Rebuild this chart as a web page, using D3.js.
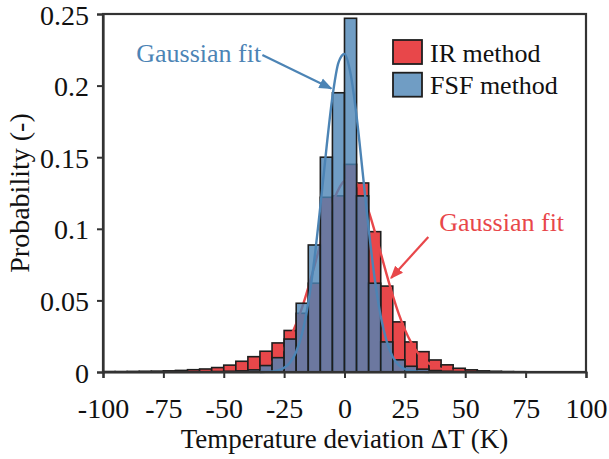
<!DOCTYPE html>
<html><head><meta charset="utf-8">
<script src="https://cdn.jsdelivr.net/npm/d3@7"></script>
<style>
html,body{margin:0;padding:0;background:#fff;}
svg{display:block;}
text{font-family:"Liberation Serif","Times New Roman",serif;}
</style></head>
<body>
<svg id="chart" width="609" height="459"></svg>
<script>
// Bin left edges (K), bin width 5 K
const binEdges = d3.range(-100, 100, 5);
const binWidth = 5;
// IR method probabilities per bin (left edge -100 ... 95)
const irValues = [0.0003,0.0003,0.0004,0.0005,0.0006,0.0008,0.0011,0.0016,0.0021,0.0031,
                  0.0048,0.0075,0.0107,0.0145,0.0203,0.029,0.041,0.062,0.122,0.123,
                  0.145,0.132,0.098,0.060,0.035,0.021,0.0142,0.0084,0.005,0.0026,
                  0.0015,0.0008,0.0005,0.0003,0.0002,0.0001,0.0001,0,0,0];
// FSF method probabilities per bin
const fsfValues = [0,0,0,0,0,0,0,0,0.0002,0.0003,
                   0.0005,0.0008,0.0015,0.0045,0.0100,0.0230,0.048,0.0887,0.150,0.195,
                   0.247,0.123,0.062,0.021,0.0085,0.004,0.002,0.001,0.0005,0.0003,
                   0.0002,0,0,0,0,0,0,0,0,0];
// Gaussian fit curves
const fsfFitX = [-35,-32.5,-30,-27.5,-25,-22.5,-20,-17.5,-15,-12.5,-10,-7.5,-5,-2.5,0,2.5,5,7.5,10,12.5,15,17.5,20,22.5,25,27.5,30,32.5,35];
const fsfFitY = [0.0000,0.0001,0.0004,0.0011,0.0029,0.0066,0.0141,0.0273,0.0484,0.0783,0.1156,0.1559,0.1921,0.2161,0.2221,0.2084,0.1786,0.1398,0.1000,0.0653,0.0389,0.0212,0.0105,0.0048,0.0020,0.0008,0.0003,0.0001,0.0000];
const irFitX = [-40,-37.5,-35,-32.5,-30,-27.5,-25,-22.5,-20,-17.5,-15,-12.5,-10,-7.5,-5,-2.5,0,2.5,5,7.5,10,12.5,15,17.5,20,22.5,25,27.5,30,32.5,35,37.5,40,42.5,45,47.5,50];
const irFitY = [0.0009,0.0015,0.0027,0.0044,0.0072,0.0111,0.0167,0.0241,0.0337,0.0453,0.0589,0.0738,0.0893,0.1042,0.1173,0.1274,0.1335,0.1349,0.1316,0.1238,0.1124,0.0984,0.0831,0.0678,0.0533,0.0404,0.0296,0.0209,0.0142,0.0094,0.0059,0.0036,0.0021,0.0012,0.0007,0.0004,0.0002];
// Axis ticks
const xTicks = [-100,-75,-50,-25,0,25,50,75,100];
const xTickLabels = ["-100","-75","-50","-25","0","25","50","75","100"];
const yTicks = [0,0.05,0.1,0.15,0.2,0.25];
const yTickLabels = ["0","0.05","0.1","0.15","0.2","0.25"];
const seriesNames = ["IR method","FSF method"];
const annotationText = ["Gaussian fit","Gaussian fit"];
// annotation anchors in data units: [textX, textY, lineStartX, lineStartY, tipX, tipY]
const annFsf = [-34.5, 0.2165, -34, 0.2214, -5.5, 0.198];
const annIr  = [39.2, 0.0985, 34.7, 0.0943, 19.3, 0.0656];

const RED = "#e8474a", BLUE = "#4c84b5", BLUE_LIGHT = "#709dc4", EDGE = "#1e1e1e", AX = "#333";

const svg = d3.select("#chart");
const x = d3.scaleLinear().domain([-100,100]).range([103,586]);
const y = d3.scaleLinear().domain([0,0.25]).range([372,14]);

const bins = binEdges.map((e,i)=>({x0:e, x1:e+binWidth, ir:irValues[i], fsf:fsfValues[i]}));

// red bars
svg.append("g").selectAll("rect").data(bins.filter(d=>d.ir>0)).join("rect")
  .attr("x", d=>x(d.x0)).attr("width", d=>x(d.x1)-x(d.x0))
  .attr("y", d=>y(d.ir)).attr("height", d=>y(0)-y(d.ir))
  .attr("fill", RED).attr("stroke", EDGE).attr("stroke-width",1.6);

const line = d3.line().x(d=>x(d[0])).y(d=>y(d[1])).curve(d3.curveMonotoneX);
// red fit (behind blue bars)
svg.append("path").datum(irFitX.map((v,i)=>[v,irFitY[i]]))
  .attr("d", line).attr("fill","none").attr("stroke", RED).attr("stroke-width",2.4);

// blue bars, semi transparent
svg.append("g").selectAll("rect").data(bins.filter(d=>d.fsf>0)).join("rect")
  .attr("x", d=>x(d.x0)).attr("width", d=>x(d.x1)-x(d.x0))
  .attr("y", d=>y(d.fsf)).attr("height", d=>y(0)-y(d.fsf))
  .attr("fill", "rgb(76,132,181)").attr("fill-opacity",0.8)
  .attr("stroke", EDGE).attr("stroke-width",1.6);

// blue fit
svg.append("path").datum(fsfFitX.map((v,i)=>[v,fsfFitY[i]]))
  .attr("d", line).attr("fill","none").attr("stroke", BLUE).attr("stroke-width",2.4);

// frame
svg.append("rect").attr("x",x(-100)).attr("y",y(0.25)).attr("width",x(100)-x(-100)).attr("height",y(0)-y(0.25))
  .attr("fill","none").attr("stroke",AX).attr("stroke-width",2.2);

// axes
const xAxis = svg.append("g").attr("transform",`translate(0,${y(0)})`)
  .call(d3.axisBottom(x).tickValues(xTicks).tickSize(6).tickPadding(20).tickFormat((d,i)=>xTickLabels[i]));
const yAxis = svg.append("g").attr("transform",`translate(${x(-100)},0)`)
  .call(d3.axisLeft(y).tickValues(yTicks).tickSize(6).tickPadding(8).tickFormat((d,i)=>yTickLabels[i]));
[xAxis,yAxis].forEach(g=>{
  g.select(".domain").attr("stroke",AX).attr("stroke-width",2.2);
  g.selectAll(".tick line").attr("stroke",AX).attr("stroke-width",2);
  g.selectAll(".tick text").attr("fill","#111").style("font-size","28px").style("font-family","'Liberation Serif','Times New Roman',serif");
});
xAxis.selectAll(".tick text").attr("dy","0.71em");
yAxis.selectAll(".tick text").attr("dy","0.36em");

// axis titles
svg.append("text").attr("x",(x(-100)+x(100))/2).attr("y",448).attr("text-anchor","middle")
  .style("font-size","27px").attr("fill","#111").text("Temperature deviation \u0394T (K)");
svg.append("text").attr("transform",`translate(29,${(y(0)+y(0.25))/2}) rotate(-90)`).attr("text-anchor","middle")
  .style("font-size","28px").attr("fill","#111").text("Probability (-)");

// legend
const legend = svg.append("g");
[[RED,0],[BLUE_LIGHT,1]].forEach(([c,i])=>{
  legend.append("rect").attr("x",393).attr("y",40+i*32.7).attr("width",29).attr("height",24)
    .attr("fill",c).attr("stroke",EDGE).attr("stroke-width",1.8);
  legend.append("text").attr("x",430).attr("y",61.5+i*32.7).style("font-size","26px").attr("fill","#111").text(seriesNames[i]);
});

// annotations with arrows
const defs = svg.append("defs");
[["arrB",BLUE],["arrR",RED]].forEach(([id,c])=>{
  defs.append("marker").attr("id",id).attr("viewBox","0 0 10 10").attr("refX",9).attr("refY",5)
    .attr("markerWidth",6).attr("markerHeight",6).attr("orient","auto-start-reverse")
    .append("path").attr("d","M0,1 L10,5 L0,9 Z").attr("fill",c);
});
function annotate(a, color, marker, anchor, txt){
  svg.append("line").attr("x1",x(a[2])).attr("y1",y(a[3])).attr("x2",x(a[4])).attr("y2",y(a[5]))
    .attr("stroke",color).attr("stroke-width",2.2).attr("marker-end",`url(#${marker})`);
  svg.append("text").attr("x",x(a[0])).attr("y",y(a[1])).attr("text-anchor",anchor)
    .style("font-size","26px").attr("fill",color).text(txt);
}
annotate(annFsf, BLUE, "arrB", "end", annotationText[0]);
annotate(annIr, RED, "arrR", "start", annotationText[1]);
</script>
</body></html>
